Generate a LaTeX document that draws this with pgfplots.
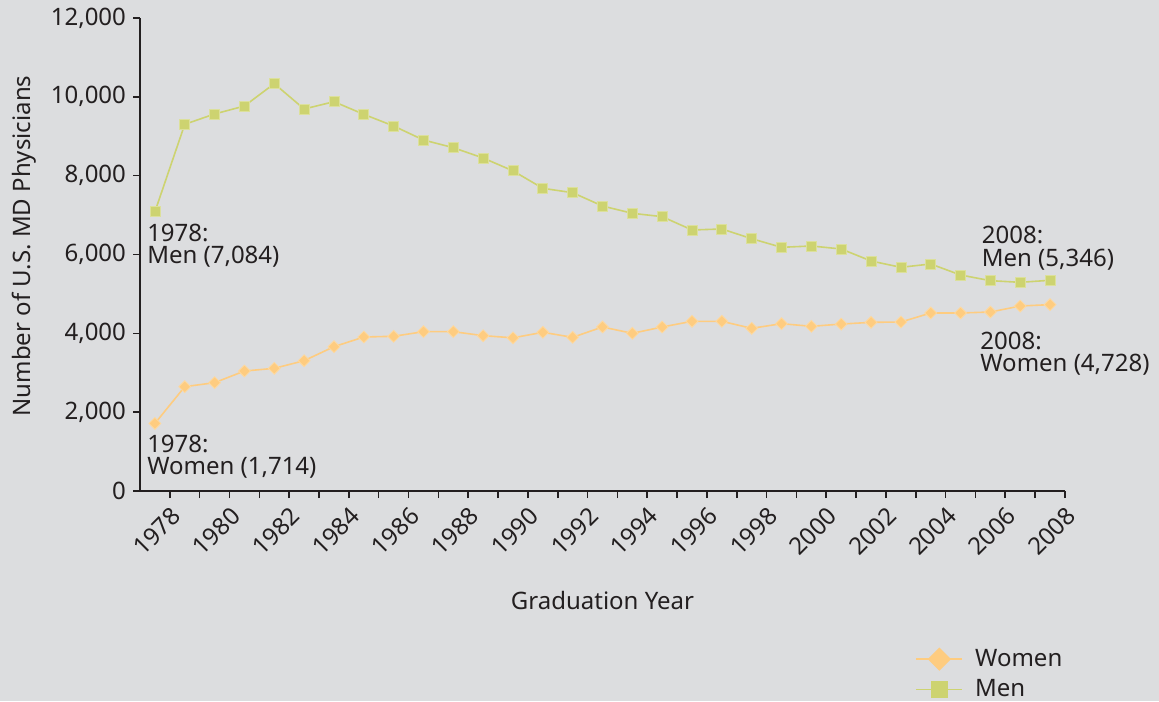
\documentclass[border=0pt]{standalone}
\usepackage{pgfplots}
\pgfplotsset{compat=1.18}
\usepackage{fontspec}
\setmainfont{Noto Sans}
\definecolor{bg}{RGB}{220,221,223}
\definecolor{menc}{RGB}{205,211,112}
\definecolor{womc}{RGB}{254,204,128}
\definecolor{txt}{RGB}{35,31,32}
\pgfplotstableread{
year women men
1978 1714 7084
1979 2647 9303
1980 2748 9565
1981 3044 9767
1982 3112 10334
1983 3306 9691
1984 3661 9877
1985 3907 9556
1986 3925 9260
1987 4042 8905
1988 4042 8710
1989 3941 8448
1990 3886 8122
1991 4026 7679
1992 3899 7568
1993 4161 7230
1994 4000 7045
1995 4161 6960
1996 4305 6622
1997 4305 6647
1998 4127 6401
1999 4245 6182
2000 4178 6216
2001 4235 6140
2002 4279 5835
2003 4287 5675
2004 4516 5759
2005 4516 5480
2006 4541 5336
2007 4693 5294
2008 4728 5346
}\datatable
\begin{document}
\begin{tikzpicture}[x=1pt,y=1pt]
\path[use as bounding box, fill=bg] (0,0) rectangle (579.5,350.5);
\begin{axis}[
  at={(70pt,105pt)}, anchor=south west,
  scale only axis, width=462.5pt, height=236.5pt,
  xmin=1977.5, xmax=2008.5, ymin=0, ymax=12000,
  axis x line*=bottom, axis y line*=left,
  axis line style={txt, line width=0.8pt},
  tick style={txt, line width=0.8pt},
  tick align=outside, major tick length=3.5pt,
  xtick={1978.5,1979.5,...,2008.5},
  xticklabels={1978,,1980,,1982,,1984,,1986,,1988,,1990,,1992,,1994,,1996,,1998,,2000,,2002,,2004,,2006,,2008},
  ytick={0,2000,...,12000},
  scaled y ticks=false,
  yticklabel style={/pgf/number format/.cd, 1000 sep={,}, assume math mode=true},
  every tick label/.append style={font=\fontsize{12}{14}\selectfont, text=txt},
  xticklabel style={rotate=45, anchor=north east, inner sep=2.5pt},
  xlabel={Graduation Year},
  xlabel style={at={(axis description cs:0.5,-0.2495)}, anchor=base, font=\fontsize{12}{14}\selectfont, text=txt},
  ylabel={Number of U.S. MD Physicians},
  ylabel style={at={(axis description cs:-0.118,0.518)}, anchor=base, font=\fontsize{12}{14}\selectfont, text=txt},
  clip=false,
  legend style={at={(axis description cs:0.838,-0.325)}, anchor=north west, draw=none, fill=none,
    font=\fontsize{12}{14}\selectfont, text=txt, inner sep=0pt, row sep=1pt},
  legend cell align=left,
]
\addplot[womc, line width=0.8pt, mark=square*, mark size=2.1pt,
  mark options={rotate=45, fill=womc, draw=womc!75!white, line width=0.4pt},
  legend image code/.code={
    \draw[womc, line width=0.8pt] (0pt,0pt) -- (23pt,0pt);
    \fill[womc, rotate around={45:(11.5pt,0pt)}] (11.5pt,0pt) ++(-3.7pt,-3.7pt) rectangle ++(7.4pt,7.4pt);
    \path (27pt,0pt);
  }] table[x=year, y=women] {\datatable};
\addlegendentry{Women}
\addplot[menc, line width=0.8pt, mark=square*, mark size=2.5pt,
  mark options={fill=menc, draw=menc!70!white, line width=0.4pt},
  legend image code/.code={
    \draw[menc, line width=0.8pt] (0pt,0pt) -- (23pt,0pt);
    \fill[menc] (11.5pt,0pt) ++(-4pt,-4pt) rectangle ++(8pt,8pt);
    \path (27pt,0pt);
  }] table[x=year, y=men] {\datatable};
\addlegendentry{Men}
\node[anchor=base west, inner sep=0pt, align=left, font=\fontsize{12}{11.2}\selectfont, text=txt]
  at (axis cs:1977.73,5759) {1978:\\Men (7,084)};
\node[anchor=base west, inner sep=0pt, align=left, font=\fontsize{12}{11.2}\selectfont, text=txt]
  at (axis cs:1977.73,406) {1978:\\Women (1,714)};
\node[anchor=base west, inner sep=0pt, align=left, font=\fontsize{12}{11.2}\selectfont, text=txt]
  at (axis cs:2005.7,5708) {2008:\\Men (5,346)};
\node[anchor=base west, inner sep=0pt, align=left, font=\fontsize{12}{11.2}\selectfont, text=txt]
  at (axis cs:2005.65,3027) {2008:\\Women (4,728)};
\end{axis}
\end{tikzpicture}
\end{document}
